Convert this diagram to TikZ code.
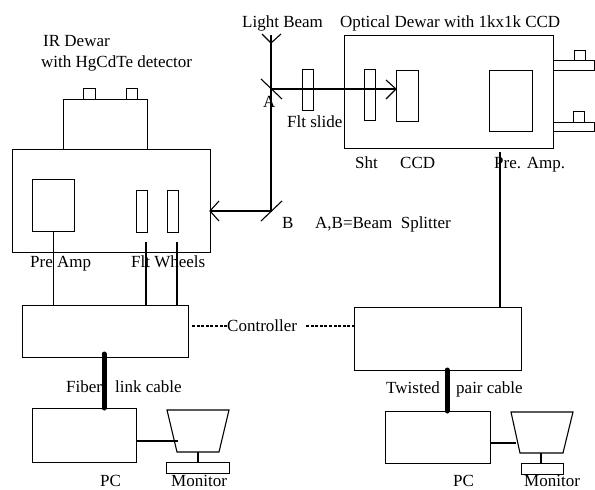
\documentclass[tikz,border=0pt]{standalone}
\usepackage{fontspec}
\setmainfont{Liberation Serif}
\tikzset{
  x=1pt,y=-1pt,
  box/.style={draw,line width=1.1pt,inner sep=0,anchor=north west},
  wire/.style={line width=1.1pt},
  dashwire/.style={line width=1.1pt,dash pattern=on 3pt off 1.6pt},
  cable/.style={line width=5pt,line cap=round},
  lbl/.style={inner sep=0,font=\fontsize{17}{18}\selectfont,anchor=base west},
}
\begin{document}
\begin{tikzpicture}
\useasboundingbox (0,0) rectangle (595,490);
% IR dewar
\node[box,minimum width=84pt,minimum height=50pt] (irtop) at (63,99) {};
\node[box,minimum width=12pt,minimum height=11pt] (irs1) at (83,88) {};
\node[box,minimum width=11pt,minimum height=11pt] (irs2) at (126,88) {};
\node[box,minimum width=198pt,minimum height=103pt] (ir) at (12,149) {};
\node[box,minimum width=42pt,minimum height=52pt] (irpre) at (32,179) {};
\node[box,minimum width=11pt,minimum height=42pt] (f1) at (136,190) {};
\node[box,minimum width=11pt,minimum height=42pt] (f2) at (167,190) {};
% Optical dewar
\node[box,minimum width=209pt,minimum height=113pt] (opt) at (344,35) {};
\node[box,minimum width=11pt,minimum height=41pt] (slide) at (302,69) {};
\node[box,minimum width=11pt,minimum height=51pt] (sht) at (364,69) {};
\node[box,minimum width=22pt,minimum height=51pt] (ccd) at (396,70) {};
\node[box,minimum width=43pt,minimum height=61pt] (opre) at (489,70) {};
\node[box,minimum width=41pt,minimum height=10pt] (fl1) at (553,60) {};
\node[box,minimum width=11pt,minimum height=10pt] (sq1) at (574,50) {};
\node[box,minimum width=41pt,minimum height=9pt] (fl2) at (553,122) {};
\node[box,minimum width=11pt,minimum height=11pt] (sq2) at (573,111) {};
% Controllers and PCs
\node[box,minimum width=166pt,minimum height=52pt] (c1) at (22,305) {};
\node[box,minimum width=167pt,minimum height=63pt] (c2) at (354,307) {};
\node[box,minimum width=104pt,minimum height=54pt] (pc1) at (32,408) {};
\node[box,minimum width=105pt,minimum height=52pt] (pc2) at (385,411) {};
\node[box,minimum width=63pt,minimum height=11pt] (base1) at (166,462) {};
\node[box,minimum width=42pt,minimum height=11pt] (base2) at (521,463) {};
% Monitors
\coordinate (m1a) at (167,410); \coordinate (m1b) at (229,410);
\coordinate (m1c) at (219,452); \coordinate (m1d) at (177,452);
\coordinate (m2a) at (511,412); \coordinate (m2b) at (573,412);
\coordinate (m2c) at (563,453); \coordinate (m2d) at (520,453);
\draw[wire] (m1a) -- (m1b) -- (m1c) -- (m1d) -- cycle;
\draw[wire] (m2a) -- (m2b) -- (m2c) -- (m2d) -- cycle;
% wires
\draw[wire] (irpre.south) -- (irpre.south |- c1.north);
\coordinate (w1) at (146,242); \coordinate (w2) at (177,242);
\draw[wire] (w1) -- (w1 |- c1.north);
\draw[wire] (w2) -- (w2 |- c1.north);
\coordinate (w3) at (500,152);
\draw[wire] (w3) -- (w3 |- c2.north);
\draw[cable] (104,354) -- (104,408);
\draw[cable] (447,370) -- (447,411);
\draw[wire] (pc1.east |- 0,441) -- (178,441);
\draw[wire] (pc2.east |- 0,443) -- (516,443);
\draw[wire] (198,452) -- (base1.north -| 198,0);
\draw[wire] (541,453) -- (base2.north -| 541,0);
\coordinate (d1) at (192,326); \coordinate (d2) at (227,326); \coordinate (d3) at (306,326);
\draw[dashwire] (d1) -- (d2);
\draw[dashwire] (d3) -- (d3 -| c2.west);
% beams
\coordinate (top) at (271,35); \coordinate (A) at (271,89); \coordinate (B) at (271,211);
\draw[wire] (top) -- (B) -- (ir.east |- B);
\draw[wire] (A) -- (ccd.west |- A);
\draw[wire] (262,34) -- (271,43) -- (281,34);
\draw[wire] (261,79) -- (282,99);
\draw[wire] (261,221) -- (282,201);
\draw[wire] (386,80) -- (396,89) -- (386,99);
\draw[wire] (219,201) -- (210,211) -- (219,221);
% text
\node[lbl] (t1) at (43,46) {IR Dewar};
\node[lbl] (t2) at (41,67) {with HgCdTe detector};
\node[lbl] (t3) at (242,27) {Light Beam};
\node[lbl] (t4) at (340,27) {Optical Dewar with 1kx1k CCD};
\node[lbl] (t5) at (263,107) {A};
\node[lbl] (t6) at (287,127) {Flt slide};
\node[lbl] (t7) at (355,168) {Sht};
\node[lbl] (t8) at (400,168) {CCD};
\node[lbl] (t9) at (494,168) {Pre. Amp.};
\node[lbl] (t10) at (282,228) {B};
\node[lbl] (t11) at (315,228) {A,B=Beam\ \ Splitter};
\node[lbl] (t12) at (30,267) {Pre Amp};
\node[lbl] (t13) at (131,267) {Flt Wheels};
\node[lbl] (t14) at (227,331) {Controller};
\node[lbl] (t15) at (66,392) {Fiber};
\node[lbl] (t16) at (115,392) {link cable};
\node[lbl] (t17) at (386,393) {Twisted};
\node[lbl] (t18) at (456,393) {pair cable};
\node[lbl] (t19) at (100,486) {PC};
\node[lbl] (t20) at (171,486) {Monitor};
\node[lbl] (t21) at (453,486) {PC};
\node[lbl] (t22) at (524,486) {Monitor};
\end{tikzpicture}
\end{document}
